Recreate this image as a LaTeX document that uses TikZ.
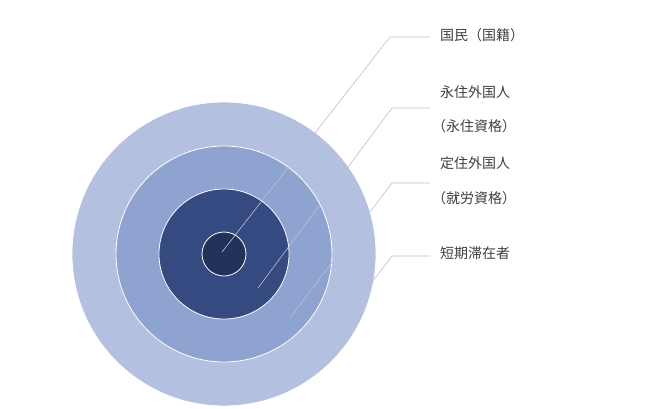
\documentclass[tikz,border=0pt]{standalone}
\usepackage{fontspec}
\newfontfamily\cjk{Noto Sans CJK JP}
\definecolor{c1}{HTML}{B4C0DF}
\definecolor{c2}{HTML}{8FA3D0}
\definecolor{c3}{HTML}{354A80}
\definecolor{c4}{HTML}{22335A}
\definecolor{ln}{HTML}{B8C0DC}
\definecolor{tx}{HTML}{404040}
\begin{document}
\begin{tikzpicture}[x=1pt,y=-1pt,
  ring/.style={draw=white,line width=0.8pt},
  lead/.style={draw=ln,line width=0.6pt},
  lab/.style={anchor=west,font=\cjk\fontsize{14}{16}\selectfont,text=tx,inner sep=0pt}]
\useasboundingbox (0,0) rectangle (651,408);
\fill[white] (0,0) rectangle (651,408);
\node[ring,circle,fill=c1,minimum size=304pt,inner sep=0pt] (o1) at (224,254) {};
\node[ring,circle,fill=c2,minimum size=216pt,inner sep=0pt] (o2) at (224,254) {};
\node[ring,circle,fill=c3,minimum size=130pt,inner sep=0pt] (o3) at (224,254) {};
\node[ring,circle,fill=c4,minimum size=44pt,inner sep=0pt] (o4) at (224,254) {};
\coordinate (p1) at (222,252); \coordinate (k1) at (390,37); \coordinate (e1) at (430,37);
\coordinate (p2) at (258,288); \coordinate (k2) at (392,108); \coordinate (e2) at (430,108);
\coordinate (p3) at (290,318); \coordinate (k3) at (392,183); \coordinate (e3) at (430,183);
\coordinate (p4) at (322,348); \coordinate (k4) at (392,256); \coordinate (e4) at (430,256);
\draw[lead] (p1)--(k1)--(e1);
\draw[lead] (p2)--(k2)--(e2);
\draw[lead] (p3)--(k3)--(e3);
\draw[lead] (p4)--(k4)--(e4);
\node[lab] (t1) at (440,35) {国民（国籍）};
\node[lab] (t2a) at (440,92) {永住外国人};
\node[lab] (t2b) at (432,126) {（永住資格）};
\node[lab] (t3a) at (440,163) {定住外国人};
\node[lab] (t3b) at (432,198) {（就労資格）};
\node[lab] (t4) at (440,253) {短期滞在者};
\end{tikzpicture}
\end{document}
